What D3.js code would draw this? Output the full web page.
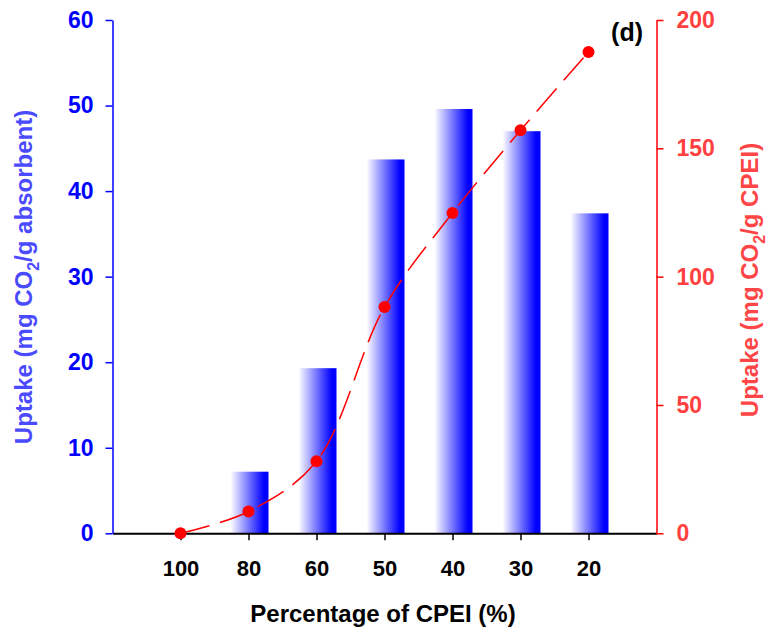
<!DOCTYPE html>
<html>
<head>
<meta charset="utf-8">
<script src="https://cdn.jsdelivr.net/npm/d3@7"></script>
<style>
  body { margin: 0; background: #fff; }
  svg text { font-family: "Liberation Sans", Arial, sans-serif; font-weight: bold; }
</style>
</head>
<body>
<svg id="chart"></svg>
<script>
// data
var categories = ["100", "80", "60", "50", "40", "30", "20"];
var barValues = [0, 7.2, 19.3, 43.7, 49.6, 47.0, 37.4];      // mg CO2 / g absorbent
var lineValues = [0, 8.5, 28.1, 88.2, 124.8, 157.0, 187.5];  // mg CO2 / g CPEI
var leftTicks = [0, 10, 20, 30, 40, 50, 60];
var rightTicks = [0, 50, 100, 150, 200];

var width = 769,
  height = 637,
  plotLeft = 112.5,
  plotRight = 656.5,
  plotTop = 20,
  plotBottom = 533.3;

var svg = d3.select("#chart")
  .attr("width", width)
  .attr("height", height);

var x = d3.scaleLinear().domain([0, categories.length + 1]).range([plotLeft, plotRight]);
var yL = d3.scaleLinear().domain([0, 60]).range([plotBottom, plotTop]);
var yR = d3.scaleLinear().domain([0, 200]).range([plotBottom, plotTop]);

// white -> blue gradient used in every bar
var grad = svg.append("defs").append("linearGradient")
  .attr("id", "barGrad")
  .attr("x1", "0%").attr("x2", "100%").attr("y1", "0%").attr("y2", "0%");
grad.append("stop").attr("offset", "0%").attr("stop-color", "#ffffff");
grad.append("stop").attr("offset", "88%").attr("stop-color", "#0000ff");
grad.append("stop").attr("offset", "100%").attr("stop-color", "#0000ff");

var barW = 38;
svg.append("g").selectAll("rect")
  .data(barValues)
  .join("rect")
  .attr("x", function (d, i) { return x(i + 1) - barW / 2 + 1; })
  .attr("y", function (d) { return yL(d); })
  .attr("width", barW)
  .attr("height", function (d) { return yL(0) - yL(d); })
  .attr("fill", "url(#barGrad)");

// x axis
var xAxis = svg.append("g")
  .attr("transform", "translate(0," + plotBottom + ")")
  .call(d3.axisBottom(x)
    .tickValues(d3.range(1, categories.length + 1))
    .tickFormat(function (d) { return categories[d - 1]; })
    .tickSize(7).tickSizeOuter(0).tickPadding(20));
xAxis.select(".domain").attr("stroke", "#000").attr("stroke-width", 2);
xAxis.selectAll(".tick line").attr("stroke", "#000").attr("stroke-width", 1.5);
xAxis.selectAll(".tick text").attr("fill", "#000").style("font-size", "22px");

// left axis
var lAxis = svg.append("g")
  .attr("transform", "translate(" + plotLeft + ",0)")
  .call(d3.axisLeft(yL).tickValues(leftTicks).tickSize(7).tickSizeOuter(0).tickPadding(12));
lAxis.select(".domain").attr("stroke", "#0000ff").attr("stroke-width", 1.5);
lAxis.selectAll(".tick line").attr("stroke", "#0000ff").attr("stroke-width", 1.5);
lAxis.selectAll(".tick text").attr("fill", "#0000ff").style("font-size", "23px");

// right axis
var rAxis = svg.append("g")
  .attr("transform", "translate(" + plotRight + ",0)")
  .call(d3.axisRight(yR).tickValues(rightTicks).tickSize(7).tickSizeOuter(0).tickPadding(13));
rAxis.select(".domain").attr("stroke", "#ff0000").attr("stroke-width", 1.5);
rAxis.selectAll(".tick line").attr("stroke", "#ff0000").attr("stroke-width", 1.5);
rAxis.selectAll(".tick text").attr("fill", "#ff4040").style("font-size", "23px");

// red dashed line + dots
var line = d3.line()
  .x(function (d, i) { return x(i + 1); })
  .y(function (d) { return yR(d); })
  .curve(d3.curveCatmullRom.alpha(0.5));

svg.append("path")
  .datum(lineValues)
  .attr("d", line)
  .attr("fill", "none")
  .attr("stroke", "#ff0000")
  .attr("stroke-width", 1.5)
  .attr("stroke-dasharray", "30,11");

svg.append("g").selectAll("circle")
  .data(lineValues)
  .join("circle")
  .attr("cx", function (d, i) { return x(i + 1); })
  .attr("cy", function (d) { return yR(d); })
  .attr("r", 6)
  .attr("fill", "#ff0000");

// titles
var lt = svg.append("text")
  .attr("transform", "translate(32,277) rotate(-90)")
  .attr("text-anchor", "middle")
  .attr("fill", "#4a4aff")
  .style("font-size", "24px");
lt.append("tspan").text("Uptake (mg CO");
lt.append("tspan").attr("dy", 7).style("font-size", "16px").text("2");
lt.append("tspan").attr("dy", -7).text("/g absorbent)");

var rt = svg.append("text")
  .attr("transform", "translate(758,280) rotate(-90)")
  .attr("text-anchor", "middle")
  .attr("fill", "#ff4545")
  .style("font-size", "24px");
rt.append("tspan").text("Uptake (mg CO");
rt.append("tspan").attr("dy", 7).style("font-size", "16px").text("2");
rt.append("tspan").attr("dy", -7).text("/g CPEI)");

svg.append("text")
  .attr("x", 383).attr("y", 622)
  .attr("text-anchor", "middle")
  .attr("fill", "#000")
  .style("font-size", "24px")
  .text("Percentage of CPEI (%)");

svg.append("text")
  .attr("x", 643).attr("y", 41)
  .attr("text-anchor", "end")
  .attr("fill", "#000")
  .style("font-size", "25px")
  .text("(d)");
</script>
</body>
</html>
